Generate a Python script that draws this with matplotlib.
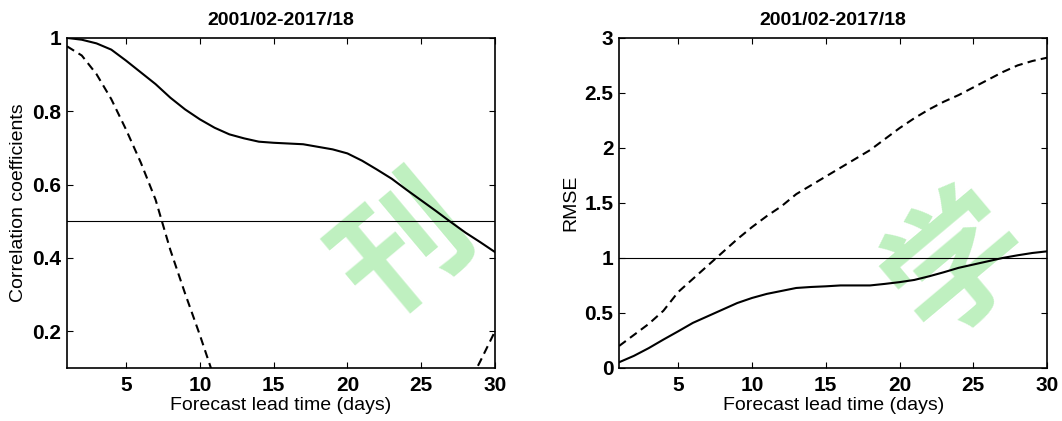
import matplotlib
matplotlib.use("Agg")
import matplotlib.pyplot as plt

plt.rcParams["font.family"] = ["Liberation Sans", "DejaVu Sans"]

lead_days = list(range(1, 31))

# correlation coefficients
corr_solid = [1.0, 0.995, 0.985, 0.968, 0.938, 0.906, 0.874, 0.837, 0.805, 0.778,
              0.755, 0.737, 0.726, 0.717, 0.714, 0.712, 0.71, 0.703, 0.696, 0.685,
              0.665, 0.641, 0.616, 0.586, 0.557, 0.528, 0.498, 0.469, 0.443, 0.416]
corr_dashed = [0.977, 0.952, 0.901, 0.833, 0.75, 0.66, 0.559, 0.422, 0.303, 0.19,
               0.07, -0.02, -0.08, -0.12, -0.15, -0.17, -0.18, -0.18, -0.17, -0.16,
               -0.14, -0.12, -0.10, -0.07, -0.05, -0.02, 0.0, 0.04, 0.118, 0.20]

# RMSE
rmse_solid = [0.052, 0.11, 0.18, 0.258, 0.333, 0.41, 0.47, 0.53, 0.59, 0.636,
              0.673, 0.70, 0.727, 0.736, 0.742, 0.75, 0.75, 0.75, 0.764, 0.78,
              0.80, 0.833, 0.87, 0.91, 0.94, 0.97, 1.0, 1.024, 1.045, 1.06]
rmse_dashed = [0.2, 0.30, 0.40, 0.52, 0.69, 0.81, 0.93, 1.05, 1.17, 1.28,
               1.38, 1.47, 1.58, 1.66, 1.74, 1.82, 1.90, 1.98, 2.08, 2.18,
               2.27, 2.35, 2.42, 2.48, 2.55, 2.62, 2.69, 2.75, 2.79, 2.82]

title = "2001/02-2017/18"
xticks = [5, 10, 15, 20, 25, 30]

fig = plt.figure(figsize=(10.62, 4.21), dpi=100)
ax1 = fig.add_axes([0.0631, 0.126, 0.403, 0.784])
ax2 = fig.add_axes([0.583, 0.126, 0.403, 0.784])

panels = [
    (ax1, corr_solid, corr_dashed, 0.5, (0.1, 1.0), [0.2, 0.4, 0.6, 0.8, 1.0],
     ["0.2", "0.4", "0.6", "0.8", "1"], "Correlation coefficients",
     "刊", (0.791, 0.362), 94),
    (ax2, rmse_solid, rmse_dashed, 1.0, (0, 3), [0, 0.5, 1, 1.5, 2, 2.5, 3],
     ["0", "0.5", "1", "1.5", "2", "2.5", "3"], "RMSE",
     "学", (0.794, 0.311), 100),
]

for ax, solid, dashed, ref, ylim, yticks, ylabels, ylabel, mark, mpos, msize in panels:
    # watermark sits under the curves
    ax.text(mpos[0], mpos[1], mark, transform=ax.transAxes, fontsize=msize,
            color="#bff0c0", rotation=40, ha="center", va="center",
            fontweight="bold", family=["Noto Sans CJK SC", "DejaVu Sans"],
            zorder=0.5)
    ax.plot(lead_days, solid, color="black", lw=1.5, ls="-", zorder=3)
    ax.plot(lead_days, dashed, color="black", lw=1.5, ls=(0, (4, 2.5)), zorder=3)
    ax.axhline(ref, color="black", lw=0.8, zorder=2)
    ax.set_xlim(1, 30)
    ax.set_ylim(*ylim)
    ax.set_xticks(xticks)
    ax.set_xticklabels([str(t) for t in xticks], fontsize=15, fontweight="bold")
    ax.set_yticks(yticks)
    ax.set_yticklabels(ylabels, fontsize=15, fontweight="bold")
    ax.tick_params(direction="in", length=4, width=0.8, top=True, right=True, pad=4)
    ax.tick_params(axis="x", pad=6)
    ax.set_xlabel("Forecast lead time (days)", fontsize=14, labelpad=1)
    ax.set_ylabel(ylabel, fontsize=14, labelpad=4)
    ax.set_title(title, fontsize=14, fontweight="bold", pad=9)
    for sp in ax.spines.values():
        sp.set_linewidth(1.2)

fig.savefig("out.png", dpi=100)
